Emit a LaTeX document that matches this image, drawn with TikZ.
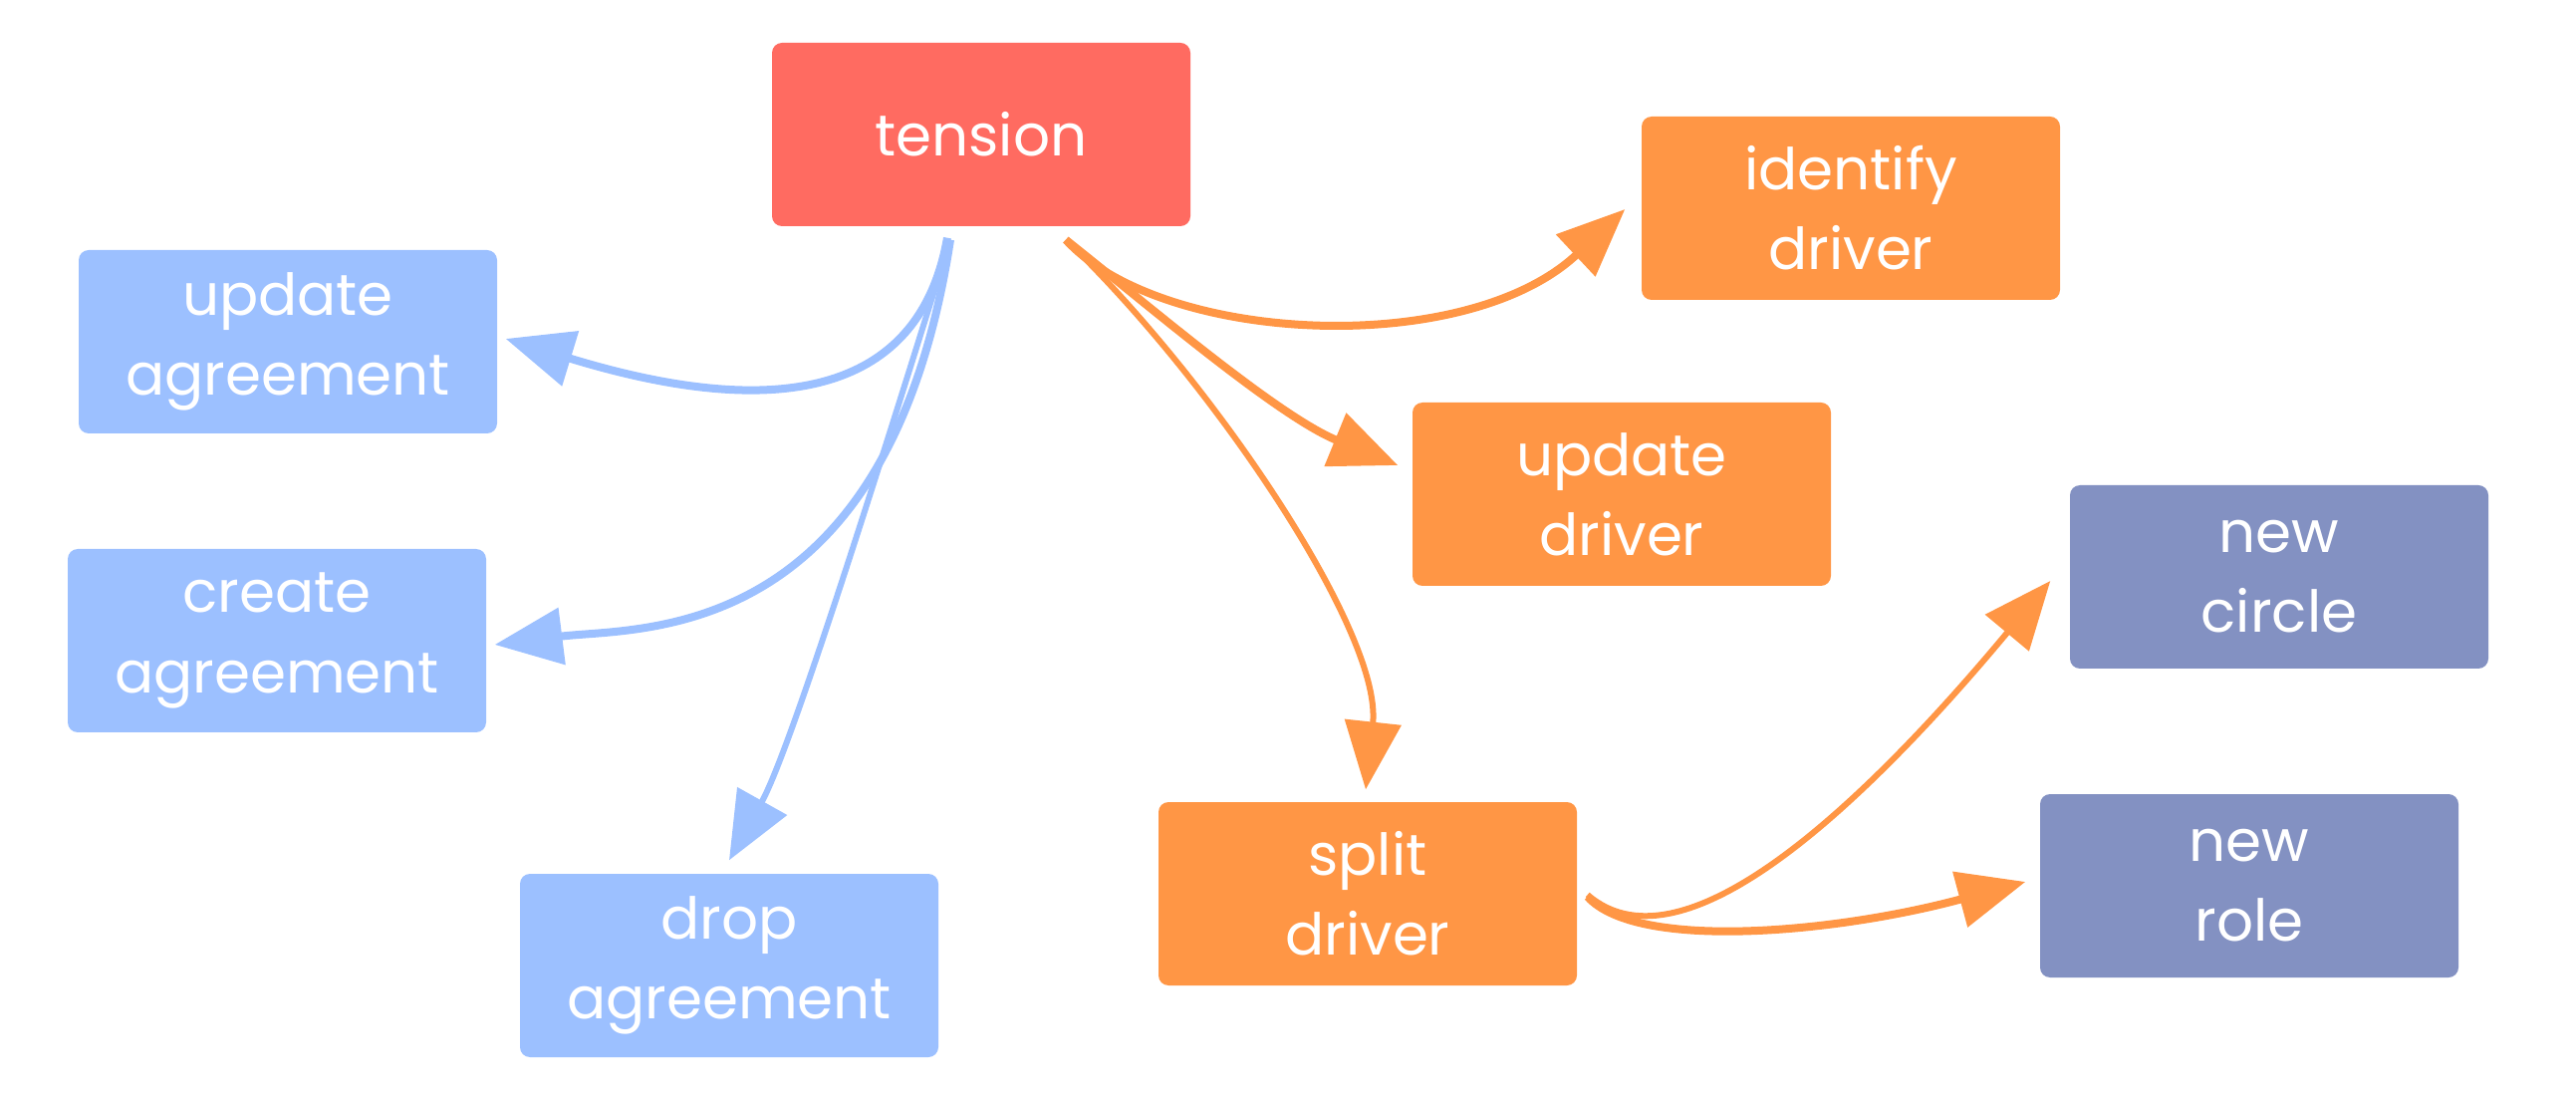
\documentclass[tikz,border=0pt]{standalone}
\usepackage{fontspec}
\setmainfont{Poppins}
\usetikzlibrary{arrows.meta}

\definecolor{tensionred}{HTML}{FF6B61}
\definecolor{agreeblue}{HTML}{9CC0FF}
\definecolor{driverorange}{HTML}{FF9645}
\definecolor{rolepurple}{HTML}{8391C2}

\tikzset{
    box/.style={rounded corners=1mm, minimum width=4.2cm, minimum height=1.84cm,
        text=white, align=center, inner sep=0pt,
        font=\fontsize{16.5}{22.8}\selectfont},
    flow/.style={line width=0.8mm, -{Triangle[length=6.8mm,width=5.6mm]}},
    thinflow/.style={flow, line width=0.6mm},
}

\begin{document}
\begin{tikzpicture}[x=0.1mm,y=-0.1mm]
        \useasboundingbox (0,0) rectangle (2586,1108);

        % tension and the agreements
        \node[box, fill=tensionred] (tension) at (985,135) {tension};
        \node[box, fill=agreeblue] (updAgr) at (289,343) {update\\agreement};
        \node[box, fill=agreeblue] (creAgr) at (278,643) {create\\agreement};
        \node[box, fill=agreeblue] (dropAgr) at (732,969) {drop\\agreement};

        % drivers
        \node[box, fill=driverorange] (identDrv) at (1858,209) {identify\\driver};
        \node[box, fill=driverorange] (updDrv) at (1628,496) {update\\driver};
        \node[box, fill=driverorange] (splitDrv) at (1373,897) {split\\driver};

        % circle and role
        \node[box, fill=rolepurple] (newCircle) at (2288,579) {new\\circle};
        \node[box, fill=rolepurple] (newRole) at (2258,889) {new\\role};

        \draw[flow, agreeblue] ([shift={(-34,11)}]tension.south)
            .. controls +(-35,200) and +(193,59) .. ([shift={(8,-3)}]updAgr.east);
        \draw[flow, agreeblue] ([shift={(-31,13)}]tension.south)
            .. controls +(-63,410) and +(143,-18) .. ([shift={(8,4)}]creAgr.east);
        \draw[thinflow, agreeblue] ([shift={(-31,13)}]tension.south)
            .. controls +(-38,120) and +(66,-118) .. ([shift={(0,-13)}]dropAgr.north);

        \draw[flow, driverorange] ([shift={(85,13)}]tension.south)
            .. controls +(96,105) and +(-160,150) .. ([shift={(-16,1)}]identDrv.west);
        \draw[flow, driverorange] ([shift={(85,13)}]tension.south)
            .. controls +(76,60) and +(-122,-50) .. ([shift={(-14,-29)}]updDrv.west);
        \draw[thinflow, driverorange] ([shift={(85,13)}]tension.south)
            .. controls +(146,140) and +(17,-157) .. ([shift={(-2,-12)}]splitDrv.north);

        \draw[thinflow, driverorange] ([shift={(10,1)}]splitDrv.east)
            .. controls +(100,87) and +(-170,204) .. ([shift={(-19,4)}]newCircle.west);
        \draw[flow, driverorange] ([shift={(10,3)}]splitDrv.east)
            .. controls +(50,55) and +(-189,51) .. ([shift={(-14,-4)}]newRole.west);
\end{tikzpicture}
\end{document}
